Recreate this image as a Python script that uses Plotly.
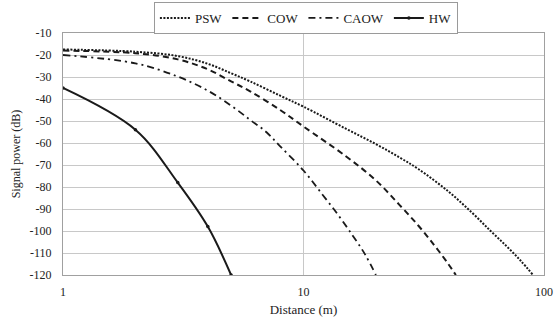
import plotly.graph_objects as go

# Distances (m) and received signal power (dB) per waveguide type
psw_d = [1, 2, 3, 4, 5, 6, 8, 10, 15, 20, 25, 30, 40, 50, 60, 70, 80, 90]
psw_p = [-17.5, -18.5, -20.5, -24, -28.3, -32, -38.5, -43.5, -53.5, -60.5, -66.5,
         -71.8, -82, -91.5, -100, -107, -113.5, -120]

cow_d = [1, 2, 3, 4, 5, 6, 8, 10, 15, 20, 25, 30, 35, 40, 43]
cow_p = [-18, -19.2, -22, -26.5, -32, -36.5, -45, -52.5, -66, -77, -88, -97.5,
         -106.5, -115, -120]

caow_d = [1, 2, 3, 4, 5, 6, 7, 8, 10, 12, 14, 16, 18, 20]
caow_p = [-20, -23.8, -29.8, -36.2, -43, -49.5, -55, -61.5, -72.5, -83.5, -93,
          -102, -110.5, -120]

hw_d = [1, 2, 3, 4, 5]
hw_p = [-35, -54, -78, -98, -120]

y_ticks = list(range(-120, 0, 10))
y_labels = [str(v) for v in y_ticks]
x_ticks = [1, 10, 100]
x_labels = ["1", "10", "100"]

FONT = "Liberation Serif, Times New Roman, serif"
INK = "#1a1a1a"

fig = go.Figure()
fig.add_trace(go.Scatter(x=psw_d, y=psw_p, name="PSW", mode="lines",
                         line=dict(color=INK, width=2, dash="2px,1.5px", shape="spline")))
fig.add_trace(go.Scatter(x=cow_d, y=cow_p, name="COW", mode="lines",
                         line=dict(color=INK, width=2, dash="6px,4px", shape="spline")))
fig.add_trace(go.Scatter(x=caow_d, y=caow_p, name="CAOW", mode="lines",
                         line=dict(color=INK, width=1.8, dash="7px,4px,2px,4px", shape="spline")))
fig.add_trace(go.Scatter(x=hw_d, y=hw_p, name="HW", mode="lines+markers",
                         line=dict(color=INK, width=2, shape="spline"),
                         marker=dict(color=INK, size=3.5)))

fig.update_layout(
    width=555, height=321,
    margin=dict(l=63, r=11, t=33, b=46, autoexpand=False),
    paper_bgcolor="white", plot_bgcolor="white",
    font=dict(family=FONT, size=12, color="#222"),
    showlegend=True,
    legend=dict(orientation="h", x=0.505, xanchor="center", y=1.128, yanchor="top",
                bordercolor="#9a9a9a", borderwidth=1, bgcolor="white",
                font=dict(family=FONT, size=13, color="#222"),
                itemwidth=30, traceorder="normal"),
)
fig.update_xaxes(
    type="log", range=[0, 2], automargin=False,
    tickvals=x_ticks, ticktext=x_labels,
    showgrid=True, gridcolor="#c8c8c8", gridwidth=1,
    showline=True, linecolor="#a0a0a0", linewidth=1, mirror=True,
    ticks="", ticklabelstandoff=6, tickfont=dict(family=FONT, size=12),
    title=dict(text="Distance (m)", standoff=6, font=dict(family=FONT, size=13)),
    zeroline=False,
)
fig.update_yaxes(
    range=[-120, -10], automargin=False,
    tickvals=y_ticks, ticktext=y_labels,
    showgrid=True, gridcolor="#c8c8c8", gridwidth=1,
    showline=True, linecolor="#a0a0a0", linewidth=1, mirror=True,
    ticks="", ticklabelstandoff=8, tickfont=dict(family=FONT, size=12),
    title=dict(text="Signal power (dB)", standoff=6, font=dict(family=FONT, size=12)),
    zeroline=False,
)

fig.write_html("out.html")
